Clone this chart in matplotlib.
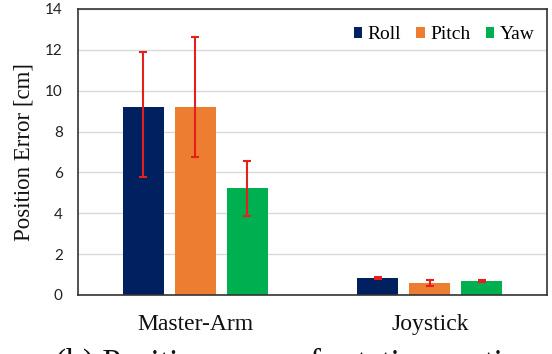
import numpy as np
import matplotlib
matplotlib.use("Agg")
import matplotlib.pyplot as plt
from matplotlib.font_manager import FontProperties

# Position error per controller and rotation axis
categories = ["Master-Arm", "Joystick"]
series = ["Roll", "Pitch", "Yaw"]
roll = [9.22, 0.83]
pitch = [9.19, 0.60]
yaw = [5.22, 0.69]
# asymmetric error extents (below, above)
roll_err_lo = [3.43, 0.06]
roll_err_hi = [2.68, 0.06]
pitch_err_lo = [2.45, 0.14]
pitch_err_hi = [3.45, 0.14]
yaw_err_lo = [1.34, 0.03]
yaw_err_hi = [1.35, 0.03]
yticks = [0, 2, 4, 6, 8, 10, 12, 14]

colors = ["#002060", "#ED7D31", "#00B050"]
err_color = "#E3201C"
serif = ["Liberation Serif", "DejaVu Serif"]

fig = plt.figure(figsize=(5.52, 3.54), dpi=100)
ax = fig.add_axes([0.1413, 0.1667, 0.8497, 0.808])

x = np.arange(len(categories))
offsets = [-0.222, 0.0, 0.222]
width = 0.175
values = [roll, pitch, yaw]
lows = [roll_err_lo, pitch_err_lo, yaw_err_lo]
highs = [roll_err_hi, pitch_err_hi, yaw_err_hi]

for vals, lo, hi, off, col, name in zip(values, lows, highs, offsets, colors, series):
    ax.bar(x + off, vals, width, color=col, label=name, zorder=2)
    ax.errorbar(x + off, vals, yerr=[lo, hi], fmt="none", ecolor=err_color,
                elinewidth=1.5, capsize=3, capthick=1.5, zorder=3)

ax.set_xlim(-0.5, 1.5)
ax.set_ylim(0, 14)
ax.set_yticks(yticks)
ax.set_yticklabels([str(t) for t in yticks], family=["Lato", "DejaVu Sans"],
                   fontsize=11, color="#222222")
ax.set_xticks(x)
ax.set_xticklabels(categories, family=serif, fontsize=17, color="#111111")
ax.tick_params(axis="both", length=0)
ax.tick_params(axis="x", pad=14)
ax.tick_params(axis="y", pad=11)

ax.yaxis.grid(True, color="#d9d9d9", linewidth=1.0, zorder=0)
ax.set_axisbelow(True)
for s in ax.spines.values():
    s.set_color("#333333")
    s.set_linewidth(1.2)

ax.set_ylabel("Position Error [cm]", family=serif, fontsize=16.5, color="#111111")
ax.yaxis.set_label_coords(-0.093, 0.5)

legend_font = FontProperties(family=serif, size=14)
leg = ax.legend(loc="upper right", ncol=3, frameon=False, prop=legend_font,
                handlelength=0.45, handleheight=0.45, handletextpad=0.25,
                columnspacing=0.8, bbox_to_anchor=(1.01, 1.0))

# figure caption, running past the lower edge of the canvas
fig.text(55 / 552, -0.051, "(b) Position error of rotation motion",
         family=serif, fontsize=24, color="#111111", ha="left", va="baseline")

fig.savefig("out.png", dpi=100)
